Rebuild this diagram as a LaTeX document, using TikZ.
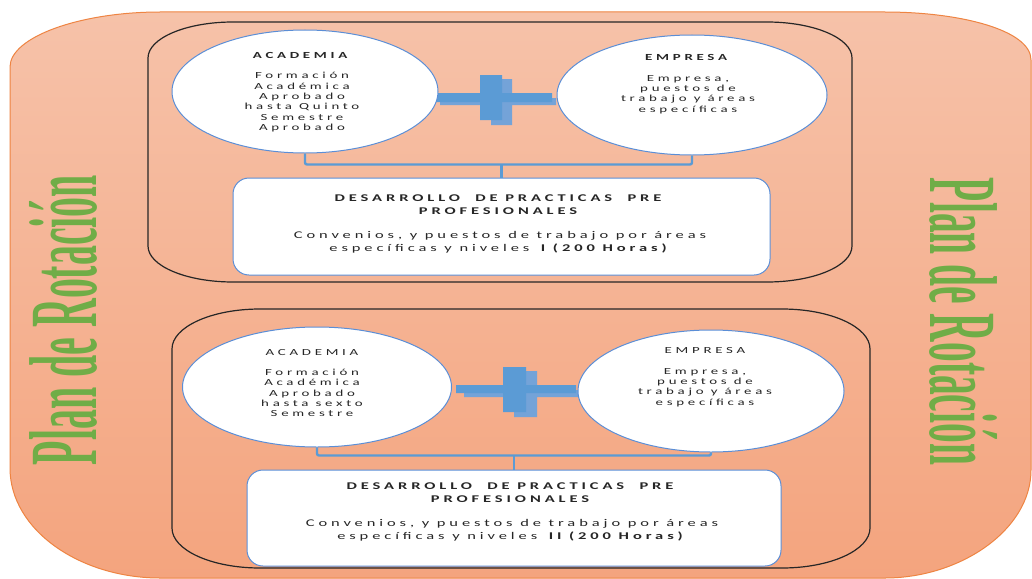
\documentclass[tikz,border=0pt]{standalone}
\usepackage{fontspec}
\usepackage{graphicx}
\usetikzlibrary{shapes.geometric}
\setmainfont{Carlito}
\newfontfamily\ellfont[FakeStretch=1.6, LetterSpace=40]{Carlito}
\newfontfamily\rectfont[FakeStretch=1.6, LetterSpace=38]{Carlito}
\newfontfamily\rotfont{Liberation Serif}
\definecolor{orTop}{HTML}{F6C2A9}
\definecolor{orBot}{HTML}{F4A47E}
\definecolor{orEdge}{HTML}{EE8442}
\definecolor{boxblue}{HTML}{5B8ED6}
\definecolor{brkblue}{HTML}{5B9BD5}
\definecolor{shblue}{HTML}{74A3D8}
\definecolor{plgreen}{HTML}{70AD47}
\definecolor{txtgray}{HTML}{262626}
\newcommand{\ellrect}[7][]{%
  \pgfmathsetmacro\erXa{#2+#6}\pgfmathsetmacro\erXb{#4-#6}%
  \pgfmathsetmacro\erYa{#3+#7}\pgfmathsetmacro\erYb{#5-#7}%
  \pgfmathsetmacro\erCx{0.552*#6}\pgfmathsetmacro\erCy{0.552*#7}%
  \path[#1] (\erXa,#3) -- (\erXb,#3) .. controls +(\erCx,0) and +(0,-\erCy) .. (#4,\erYa)
    -- (#4,\erYb) .. controls +(0,\erCy) and +(\erCx,0) .. (\erXb,#5)
    -- (\erXa,#5) .. controls +(-\erCx,0) and +(0,\erCy) .. (#2,\erYb)
    -- (#2,\erYa) .. controls +(0,-\erCy) and +(-\erCx,0) .. (\erXa,#3) -- cycle;}
\begin{document}
\begin{tikzpicture}[x=1pt,y=-1pt,
  ellip/.style={ellipse, draw=boxblue, fill=white, line width=1pt, inner sep=0pt},
  txt/.style={align=center, text=txtgray, inner sep=0pt, font=\ellfont\fontsize{9.3}{10.3}\selectfont},
  rtxt/.style={align=center, text=txtgray, inner sep=0pt, font=\rectfont\fontsize{10.3}{12.8}\selectfont},
  rectbox/.style={rectangle, rounded corners=16pt, draw=boxblue, fill=white, line width=1pt, inner sep=0pt},
  brk/.style={draw=brkblue, line width=2.4pt, rounded corners=2pt},
  frame/.style={draw=black!85, line width=1.2pt},
  plusmain/.style={fill=brkblue},
  plusshadow/.style={fill=shblue},
  rottext/.style={text=plgreen, inner sep=0pt, font=\rotfont\bfseries}]
\useasboundingbox (0,0) rectangle (1032,578);
\fill[white] (0,0) rectangle (1032,578);
% outer orange shape
\path[draw=orEdge, line width=1pt, top color=orTop, bottom color=orBot]
  (160,12) -- (885,12) .. controls (960,12) and (1031,30) .. (1031,60)
  -- (1031,470) .. controls (1031,530) and (960,578) .. (885,578)
  -- (160,578) .. controls (80,578) and (10,530) .. (10,468)
  -- (10,67) .. controls (10,37) and (80,12) .. (160,12) -- cycle;
% side titles
\node[rottext, rotate=90] (plL) at (63.5,320) {\resizebox{290pt}{67pt}{Plan de Rotación}};
\node[rottext, rotate=-90] (plR) at (963.5,321.5) {\resizebox{287pt}{67pt}{Plan de Rotación}};
% black frames
\ellrect[frame]{148}{22}{852}{282}{85}{36}
\ellrect[frame]{172}{309}{870}{568}{88}{40}
% plus signs (drawn under the ellipses)
\fill[plusshadow] (440,98) rectangle (556,105) (491,79) rectangle (512,125);
\fill[plusmain] (432,93) rectangle (552,102) (480,75) rectangle (502,120);
\fill[plusshadow] (464,390) rectangle (578,397) (514,371) rectangle (537,417);
\fill[plusmain] (456,385) rectangle (576,393) (503,367) rectangle (526,412);
% ---- top section ----
\node[ellip, minimum width=266pt, minimum height=123pt] (acad1) at (305,91.5) {};
\node[ellip, minimum width=270pt, minimum height=120pt] (emp1) at (692,95) {};
\node[rectbox, minimum width=537pt, minimum height=97pt] (rect1) at (501.5,226.5) {};
\draw[brk] (acad1.south) -- ++(0,11) -| (emp1.south);
\draw[brk] (rect1.north) -- (rect1.north |- 0,164);
\node[txt] (tacad1) at (302,92) {\textbf{ACADEMIA}\\[10.3pt]Formación\\Académica\\Aprobado\\hasta Quinto\\Semestre\\Aprobado};
\node[txt] (temp1) at (688,84) {\textbf{EMPRESA}\\[10.3pt]Empresa,\\puestos de\\trabajo y áreas\\específicas};
\node[rtxt] (trect1) at (500,224) {\textbf{DESARROLLO\ \ DE PRACTICAS\ \ PRE}\\\textbf{PROFESIONALES}\\[11pt]Convenios, y puestos de trabajo por áreas\\específicas y niveles \textbf{I (200 Horas)}};
% ---- bottom section ----
\node[ellip, minimum width=269pt, minimum height=120pt] (acad2) at (317,387) {};
\node[ellip, minimum width=266pt, minimum height=122pt] (emp2) at (711,391) {};
\node[rectbox, minimum width=534pt, minimum height=96pt] (rect2) at (514,518) {};
\draw[brk] (acad2.south) -- ++(0,8) -| (emp2.south);
\draw[brk] (rect2.north) -- (rect2.north |- 0,455);
\node[txt] (tacad2) at (312,383) {ACADEMIA\\[10.3pt]Formación\\Académica\\Aprobado\\hasta sexto\\Semestre};
\node[txt] (temp2) at (705,377) {EMPRESA\\[10.3pt]Empresa,\\puestos de\\trabajo y áreas\\específicas};
\node[rtxt] (trect2) at (512,512) {\textbf{DESARROLLO\ \ DE PRACTICAS\ \ PRE}\\\textbf{PROFESIONALES}\\[11pt]Convenios, y puestos de trabajo por áreas\\específicas y niveles \textbf{II (200 Horas)}};
\end{tikzpicture}
\end{document}
